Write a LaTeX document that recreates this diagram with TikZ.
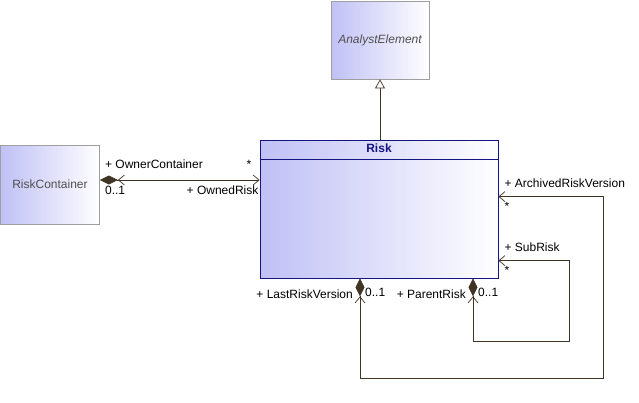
\documentclass[tikz,border=0pt]{standalone}
\usepackage{fontspec}
\setmainfont{Liberation Sans}
\usetikzlibrary{arrows.meta,calc}
\definecolor{boxblue}{RGB}{192,192,246}
\definecolor{linebrown}{RGB}{64,52,36}
\definecolor{navy}{RGB}{20,20,130}
\definecolor{greytext}{RGB}{80,80,80}
\begin{document}
\begin{tikzpicture}[x=1pt, y=-1pt,
    every node/.style={font=\fontsize{12}{14}\selectfont, inner sep=0pt},
    umlclass/.style={draw=gray!75, line width=0.8pt, left color=boxblue, right color=white, shading angle=90},
    risk/.style={umlclass, draw=navy},
    link/.style={draw=linebrown, line width=0.7pt},
    comp/.style={link, {Diamond[fill=linebrown, length=18pt, width=9pt] Straight Barb[open, length=6pt, width=10pt, line width=0.7pt]}-{Straight Barb[length=6pt, width=10pt, line width=0.7pt]}},
    gen/.style={link, -{Triangle[open, length=9pt, width=10pt, fill=white]}},
    role/.style={text=black}]

    \useasboundingbox (0,0) rectangle (639,402);

    % classes
    \node[umlclass, minimum width=98, minimum height=78] (analyst) at (380,40) {\color{greytext}\itshape AnalystElement};
    \node[umlclass, minimum width=99, minimum height=79] (container) at (50,184.5) {\color{greytext}RiskContainer};
    \node[risk, minimum width=238, minimum height=138] (risk) at (379,209) {};
    \node[below=4pt, text=navy, font=\fontsize{12}{14}\selectfont\bfseries] (risktitle) at (risk.north) {Risk};
    \draw[navy, line width=0.8pt] ($(risk.north west)+(0,20)$) -- ($(risk.north east)+(0,20)$);

    % generalization
    \draw[gen] (analyst.south |- risk.north) -- (analyst.south);

    % owner container
    \coordinate (ownL) at (container.east |- 0,180);
    \coordinate (ownR) at (risk.west |- 0,180);
    \draw[comp] (ownL) -- (ownR);
    \node[role, anchor=south west] (ownerlbl) at ($(ownL)+(5,-11)$) {+ OwnerContainer};
    \node[role, anchor=south east] (ownerstar) at ($(ownR)+(-8,-11)$) {*};
    \node[role, anchor=north west] (ownermult) at ($(ownL)+(5,6)$) {0..1};
    \node[role, anchor=north east] (ownedlbl) at ($(ownR)+(-1,6)$) {+ OwnedRisk};

    % archived versions
    \coordinate (arcA) at ($(risk.south)+(-19,0)$);
    \coordinate (arcB) at ($(risk.north east)+(0,57)$);
    \draw[comp] (arcA) -- ++(0,100) -| ($(arcB)+(105,0)$) -- (arcB);
    \node[role, anchor=east] (lastlbl) at ($(arcA)+(-7,16)$) {+ LastRiskVersion};
    \node[role, anchor=west] (lastmult) at ($(arcA)+(5,14)$) {0..1};
    \node[role, anchor=south west] (arclbl) at ($(arcB)+(6,-9)$) {+ ArchivedRiskVersion};
    \node[role, anchor=north west] (arcstar) at ($(arcB)+(6,5)$) {*};

    % sub risks
    \coordinate (subA) at ($(risk.south)+(94,0)$);
    \coordinate (subB) at ($(risk.north east)+(0,121)$);
    \draw[comp] (subA) -- ++(0,63) -| ($(subB)+(71,0)$) -- (subB);
    \node[role, anchor=east] (parentlbl) at ($(subA)+(-7,16)$) {+ ParentRisk};
    \node[role, anchor=west] (parentmult) at ($(subA)+(5,14)$) {0..1};
    \node[role, anchor=south west] (sublbl) at ($(subB)+(6,-9)$) {+ SubRisk};
    \node[role, anchor=north west] (substar) at ($(subB)+(6,5)$) {*};
\end{tikzpicture}
\end{document}
